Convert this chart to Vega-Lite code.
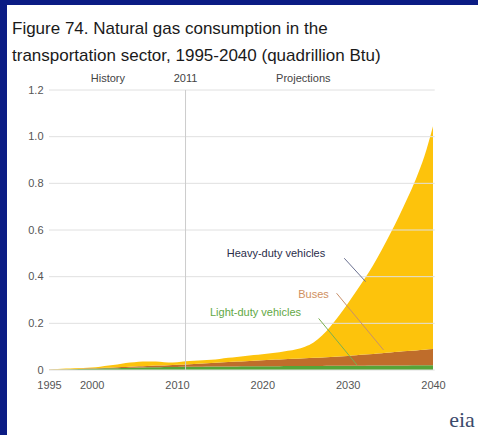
{
  "$schema": "https://vega.github.io/schema/vega-lite/v6.json",
  "width": 471,
  "height": 430,
  "autosize": {"type": "none"},
  "padding": {"left": 7, "top": 5, "right": 0, "bottom": 0},
  "background": "#0b1c84",
  "data": {"values": [{}]},
  "config": {
    "view": {"fill": "white", "stroke": null},
    "font": "Liberation Sans",
    "axis": {"grid": false, "domain": false, "ticks": false}
  },
  "title": {
    "text": ["Figure 74. Natural gas consumption in the", "transportation sector, 1995-2040 (quadrillion Btu)"],
    "anchor": "start",
    "frame": "group",
    "offset": -60,
    "dx": 5,
    "fontSize": 17,
    "font": "Liberation Sans",
    "fontWeight": "normal",
    "color": "#1a1a1a",
    "lineHeight": 27
  },
  "layer": [
    {
      "data": {"values": [
        {"year": 1995, "cars": 0.000, "coaches": 0.001, "trucks": 0.001},
        {"year": 1996, "cars": 0.001, "coaches": 0.001, "trucks": 0.002},
        {"year": 1997, "cars": 0.002, "coaches": 0.001, "trucks": 0.003},
        {"year": 1998, "cars": 0.003, "coaches": 0.001, "trucks": 0.004},
        {"year": 1999, "cars": 0.004, "coaches": 0.002, "trucks": 0.003},
        {"year": 2000, "cars": 0.005, "coaches": 0.002, "trucks": 0.004},
        {"year": 2001, "cars": 0.006, "coaches": 0.003, "trucks": 0.005},
        {"year": 2002, "cars": 0.007, "coaches": 0.003, "trucks": 0.009},
        {"year": 2003, "cars": 0.008, "coaches": 0.004, "trucks": 0.012},
        {"year": 2004, "cars": 0.009, "coaches": 0.004, "trucks": 0.017},
        {"year": 2005, "cars": 0.010, "coaches": 0.005, "trucks": 0.018},
        {"year": 2006, "cars": 0.011, "coaches": 0.005, "trucks": 0.020},
        {"year": 2007, "cars": 0.012, "coaches": 0.006, "trucks": 0.018},
        {"year": 2008, "cars": 0.012, "coaches": 0.007, "trucks": 0.016},
        {"year": 2009, "cars": 0.013, "coaches": 0.007, "trucks": 0.012},
        {"year": 2010, "cars": 0.013, "coaches": 0.009, "trucks": 0.011},
        {"year": 2011, "cars": 0.014, "coaches": 0.010, "trucks": 0.013},
        {"year": 2012, "cars": 0.014, "coaches": 0.012, "trucks": 0.014},
        {"year": 2013, "cars": 0.014, "coaches": 0.014, "trucks": 0.014},
        {"year": 2014, "cars": 0.015, "coaches": 0.015, "trucks": 0.014},
        {"year": 2015, "cars": 0.015, "coaches": 0.017, "trucks": 0.015},
        {"year": 2016, "cars": 0.015, "coaches": 0.019, "trucks": 0.018},
        {"year": 2017, "cars": 0.015, "coaches": 0.021, "trucks": 0.020},
        {"year": 2018, "cars": 0.016, "coaches": 0.022, "trucks": 0.022},
        {"year": 2019, "cars": 0.016, "coaches": 0.024, "trucks": 0.024},
        {"year": 2020, "cars": 0.016, "coaches": 0.026, "trucks": 0.026},
        {"year": 2021, "cars": 0.016, "coaches": 0.028, "trucks": 0.028},
        {"year": 2022, "cars": 0.016, "coaches": 0.029, "trucks": 0.031},
        {"year": 2023, "cars": 0.017, "coaches": 0.030, "trucks": 0.035},
        {"year": 2024, "cars": 0.017, "coaches": 0.031, "trucks": 0.041},
        {"year": 2025, "cars": 0.017, "coaches": 0.033, "trucks": 0.050},
        {"year": 2026, "cars": 0.017, "coaches": 0.035, "trucks": 0.066},
        {"year": 2027, "cars": 0.017, "coaches": 0.037, "trucks": 0.094},
        {"year": 2028, "cars": 0.018, "coaches": 0.038, "trucks": 0.132},
        {"year": 2029, "cars": 0.018, "coaches": 0.040, "trucks": 0.176},
        {"year": 2030, "cars": 0.018, "coaches": 0.042, "trucks": 0.224},
        {"year": 2031, "cars": 0.018, "coaches": 0.045, "trucks": 0.274},
        {"year": 2032, "cars": 0.018, "coaches": 0.048, "trucks": 0.326},
        {"year": 2033, "cars": 0.019, "coaches": 0.050, "trucks": 0.381},
        {"year": 2034, "cars": 0.019, "coaches": 0.053, "trucks": 0.443},
        {"year": 2035, "cars": 0.019, "coaches": 0.056, "trucks": 0.510},
        {"year": 2036, "cars": 0.019, "coaches": 0.059, "trucks": 0.580},
        {"year": 2037, "cars": 0.019, "coaches": 0.062, "trucks": 0.655},
        {"year": 2038, "cars": 0.020, "coaches": 0.064, "trucks": 0.735},
        {"year": 2039, "cars": 0.020, "coaches": 0.067, "trucks": 0.830},
        {"year": 2040, "cars": 0.020, "coaches": 0.070, "trucks": 0.955}
      ]},
      "transform": [{"fold": ["cars", "coaches", "trucks"], "as": ["type", "value"]}],
      "mark": {"type": "area", "opacity": 1, "interpolate": "monotone"},
      "encoding": {
        "x": {
          "field": "year", "type": "quantitative", "title": null,
          "scale": {"domain": [1990.078, 2045.273], "nice": false, "zero": false},
          "axis": {
            "title": null, "values": [1995, 2000, 2010, 2020, 2030, 2040], "format": "d",
            "domain": false, "ticks": false, "grid": false, "offset": -65,
            "labelPadding": 9, "labelFontSize": 11, "labelColor": "#555555", "labelFont": "Liberation Sans"
          }
        },
        "y": {
          "field": "value", "type": "quantitative", "stack": "zero", "title": null,
          "scale": {"domain": [-0.27857, 1.56429], "nice": false, "zero": false},
          "axis": {
            "title": null, "values": [0, 0.2, 0.4, 0.6, 0.8, 1.0, 1.2],
            "labelExpr": "datum.value == 0 ? '0' : format(datum.value, '.1f')",
            "domain": false, "ticks": false, "grid": false, "offset": -42,
            "labelPadding": 6, "labelFontSize": 11, "labelColor": "#555555", "labelFont": "Liberation Sans"
          }
        },
        "order": {"field": "type", "sort": "ascending"},
        "color": {
          "field": "type", "type": "nominal",
          "scale": {"domain": ["cars", "coaches", "trucks"], "range": ["#56a437", "#bf6d2b", "#fdc30c"]},
          "legend": null
        }
      }
    },
    {
      "data": {"values": [{"v": 0}, {"v": 0.2}, {"v": 0.4}, {"v": 0.6}, {"v": 0.8}, {"v": 1.0}, {"v": 1.2}]},
      "mark": {"type": "rule", "color": "#e0e0e0", "strokeWidth": 1, "zindex": 0},
      "encoding": {
        "x": {"datum": 1995, "type": "quantitative", "title": null},
        "x2": {"datum": 2040.2},
        "y": {"field": "v", "type": "quantitative", "title": null}
      }
    },
    {
      "mark": {"type": "rule", "color": "#cccccc", "strokeWidth": 1},
      "encoding": {
        "x": {"datum": 2011, "type": "quantitative", "title": null},
        "y": {"datum": 0, "type": "quantitative", "title": null},
        "y2": {"datum": 1.2}
      }
    },
    {
      "mark": {"type": "rule", "color": "#6a7090", "strokeWidth": 1},
      "encoding": {
        "x": {"datum": 2029.6, "type": "quantitative", "title": null},
        "x2": {"datum": 2032.1},
        "y": {"datum": 0.479, "type": "quantitative", "title": null},
        "y2": {"datum": 0.379}
      }
    },
    {
      "mark": {"type": "rule", "color": "#c8906a", "strokeWidth": 1},
      "encoding": {
        "x": {"datum": 2028.7, "type": "quantitative", "title": null},
        "x2": {"datum": 2034.2},
        "y": {"datum": 0.329, "type": "quantitative", "title": null},
        "y2": {"datum": 0.086}
      }
    },
    {
      "mark": {"type": "rule", "color": "#7ab050", "strokeWidth": 1},
      "encoding": {
        "x": {"datum": 2026.6, "type": "quantitative", "title": null},
        "x2": {"datum": 2031.1},
        "y": {"datum": 0.221, "type": "quantitative", "title": null},
        "y2": {"datum": 0.021}
      }
    },
    {
      "mark": {"type": "text", "text": "History", "fontSize": 11, "color": "#444444", "baseline": "middle", "align": "center"},
      "encoding": {"x": {"datum": 2001.9, "type": "quantitative", "title": null}, "y": {"datum": 1.247, "type": "quantitative", "title": null}}
    },
    {
      "mark": {"type": "text", "text": "2011", "fontSize": 11, "color": "#444444", "baseline": "middle", "align": "center"},
      "encoding": {"x": {"datum": 2011, "type": "quantitative", "title": null}, "y": {"datum": 1.247, "type": "quantitative", "title": null}}
    },
    {
      "mark": {"type": "text", "text": "Projections", "fontSize": 11, "color": "#444444", "baseline": "middle", "align": "center"},
      "encoding": {"x": {"datum": 2024.8, "type": "quantitative", "title": null}, "y": {"datum": 1.247, "type": "quantitative", "title": null}}
    },
    {
      "mark": {"type": "text", "text": "Heavy-duty vehicles", "fontSize": 11, "color": "#2a2d4a", "baseline": "middle", "align": "center"},
      "encoding": {"x": {"datum": 2021.6, "type": "quantitative", "title": null}, "y": {"datum": 0.497, "type": "quantitative", "title": null}}
    },
    {
      "mark": {"type": "text", "text": "Buses", "fontSize": 11, "color": "#d0905e", "baseline": "middle", "align": "center"},
      "encoding": {"x": {"datum": 2026.0, "type": "quantitative", "title": null}, "y": {"datum": 0.321, "type": "quantitative", "title": null}}
    },
    {
      "mark": {"type": "text", "text": "Light-duty vehicles", "fontSize": 11, "color": "#62a845", "baseline": "middle", "align": "center"},
      "encoding": {"x": {"datum": 2019.2, "type": "quantitative", "title": null}, "y": {"datum": 0.2456, "type": "quantitative", "title": null}}
    },
    {
      "mark": {"type": "text", "text": "eia", "fontSize": 22, "font": "Liberation Serif", "color": "#3b4a6b", "baseline": "alphabetic", "align": "center"},
      "encoding": {"x": {"datum": 2043.4, "type": "quantitative", "title": null}, "y": {"datum": -0.244, "type": "quantitative", "title": null}}
    }
  ]
}
